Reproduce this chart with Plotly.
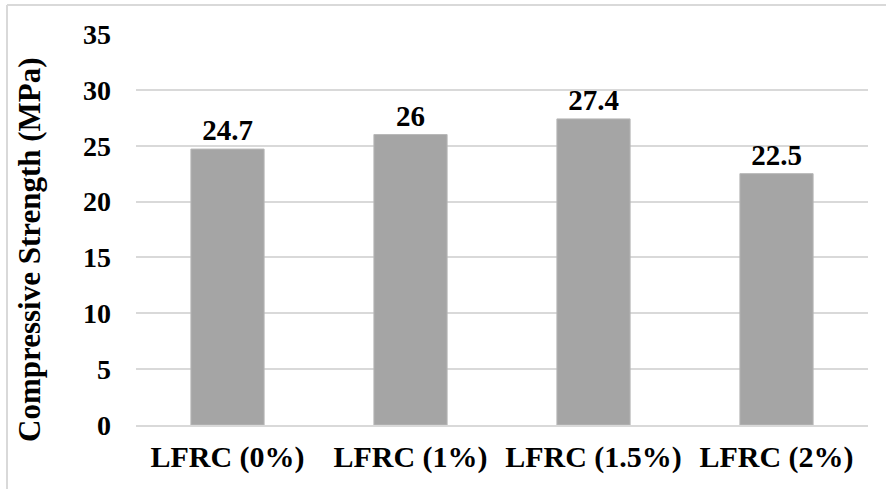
import plotly.graph_objects as go

# Compressive strength of LFRC mixes at different fibre contents
categories = ["LFRC (0%)", "LFRC (1%)", "LFRC (1.5%)", "LFRC (2%)"]
strength_mpa = [24.7, 26, 27.4, 22.5]
y_ticks = [0, 5, 10, 15, 20, 25, 30, 35]
y_title = "Compressive Strength (MPa)"

FONT = "Times New Roman, Liberation Serif, serif"

fig = go.Figure(
    go.Bar(
        x=categories,
        y=strength_mpa,
        text=[f"{v:g}" for v in strength_mpa],
        texttemplate="<b>%{text}</b>",
        textposition="outside",
        textfont=dict(family=FONT, size=29, color="black"),
        outsidetextfont=dict(family=FONT, size=29, color="black"),
        cliponaxis=False,
        marker=dict(color="#a5a5a5", line=dict(color="#b8b8b8", width=1)),
        width=0.4,
    )
)

fig.update_layout(
    width=886,
    height=489,
    margin=dict(l=136, r=18, t=34, b=64),
    paper_bgcolor="white",
    plot_bgcolor="white",
    showlegend=False,
    font=dict(family=FONT, color="black"),
    uniformtext=dict(minsize=29, mode="show"),
    xaxis=dict(
        tickvals=categories,
        ticktext=[f"<b>{c}</b>" for c in categories],
        tickfont=dict(family=FONT, size=30, color="black"),
        showgrid=False,
        showline=True,
        linecolor="#d9d9d9",
        linewidth=2,
        ticks="",
        ticklabelstandoff=4,
    ),
    yaxis=dict(
        range=[0, 35],
        tickvals=y_ticks,
        ticktext=[f"<b>{t}</b>" for t in y_ticks],
        tickfont=dict(family=FONT, size=28, color="black"),
        showgrid=True,
        gridcolor="#d9d9d9",
        gridwidth=2,
        zeroline=False,
        showline=False,
        ticks="",
        ticklabelstandoff=24,
    ),
)

# Vertical axis title, centred on the chart area rather than the plot area
fig.add_annotation(
    text=f"<b>{y_title}</b>",
    xref="paper", yref="paper",
    x=(30 - 136) / 732, y=(425 - 250) / 391,
    xanchor="center", yanchor="middle",
    textangle=-90, showarrow=False,
    font=dict(family=FONT, size=31, color="black"),
)

# Chart-area frame (top and left edges)
fig.add_shape(type="line", xref="paper", yref="paper",
              x0=(7 - 136) / 732, x1=(886 - 136) / 732,
              y0=(489 - 64 - 5) / 391, y1=(489 - 64 - 5) / 391,
              line=dict(color="#d9d9d9", width=2))
fig.add_shape(type="line", xref="paper", yref="paper",
              x0=(7 - 136) / 732, x1=(7 - 136) / 732,
              y0=(489 - 64 - 5) / 391, y1=-64 / 391,
              line=dict(color="#d9d9d9", width=2))

fig.write_html("out.html")
